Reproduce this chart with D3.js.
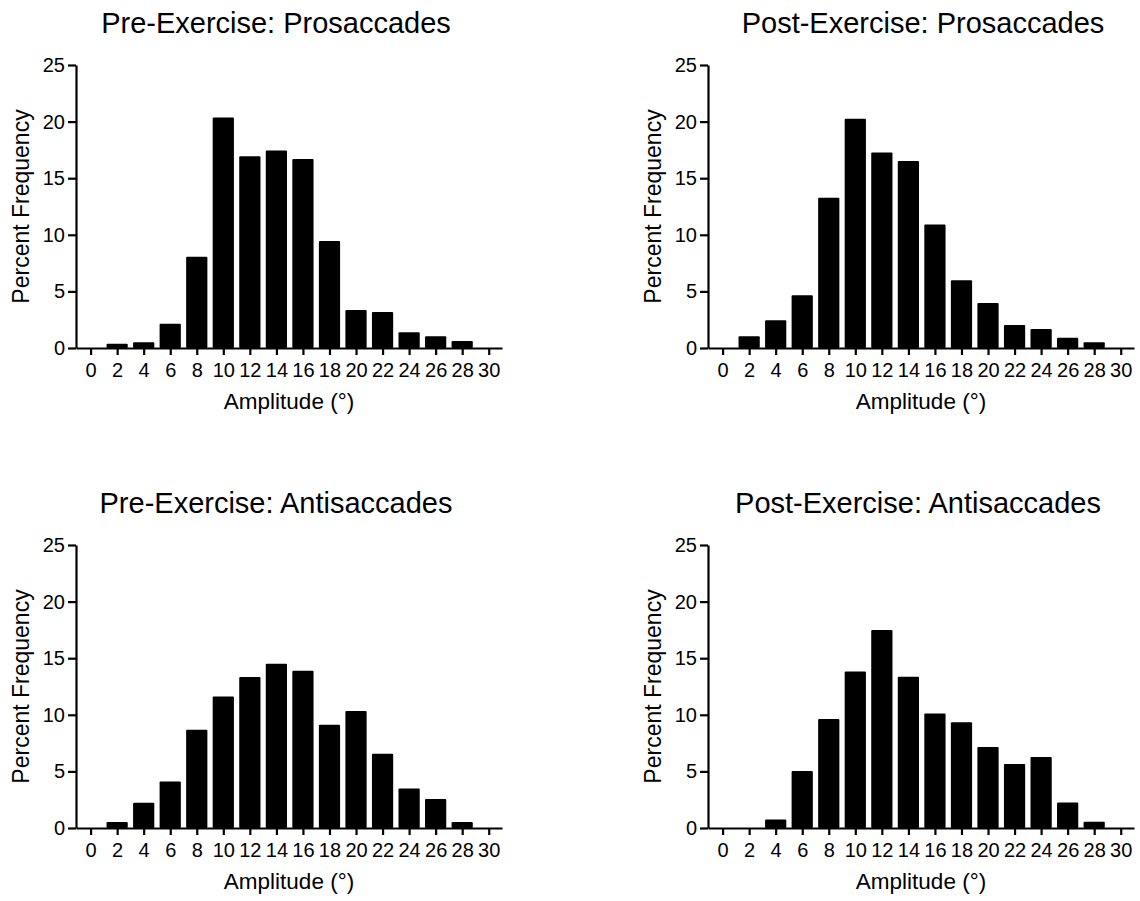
<!DOCTYPE html>
<html>
<head>
<meta charset="utf-8">
<script src="https://cdn.jsdelivr.net/npm/d3@7"></script>
<style>
  html, body { margin: 0; padding: 0; background: #fff; }
  svg { display: block; font-family: "Liberation Sans", Arial, sans-serif; }
</style>
</head>
<body>
<svg id="chart" width="1140" height="901"></svg>
<script>
// bins (amplitude, deg)
const bins = [0, 2, 4, 6, 8, 10, 12, 14, 16, 18, 20, 22, 24, 26, 28, 30];
const yTicks = [0, 5, 10, 15, 20, 25];

// percent frequency per bin
const preProsaccades   = [0, 0.38, 0.5, 2.15, 8.05, 20.37, 16.95, 17.45, 16.69, 9.46, 3.36, 3.18, 1.39, 1.03, 0.62, 0];
const postProsaccades  = [0, 1.03, 2.45, 4.66, 13.27, 20.25, 17.28, 16.51, 10.91, 5.98, 3.98, 2.03, 1.68, 0.91, 0.5, 0];
const preAntisaccades  = [0, 0.53, 2.22, 4.11, 8.69, 11.61, 13.33, 14.51, 13.89, 9.13, 10.34, 6.56, 3.49, 2.57, 0.53, 0];
const postAntisaccades = [0, 0, 0.74, 5.03, 9.62, 13.82, 17.49, 13.37, 10.12, 9.35, 7.16, 5.65, 6.27, 2.25, 0.56, 0];

const titles = [
  "Pre-Exercise: Prosaccades", "Post-Exercise: Prosaccades",
  "Pre-Exercise: Antisaccades", "Post-Exercise: Antisaccades"
];
const series = [preProsaccades, postProsaccades, preAntisaccades, postAntisaccades];

// layout
const plotW = 426, plotH = 283;
const origins = [[76, 65], [708, 65], [76, 545], [708, 545]];
const titleShift = [-13, 2, -13, -3];

const svg = d3.select("#chart");

series.forEach((vals, i) => {
  const [ox, oy] = origins[i];
  const g = svg.append("g").attr("transform", `translate(${ox},${oy})`);

  const x = d3.scaleLinear().domain([-1.1, 31]).range([0, plotW]);
  const y = d3.scaleLinear().domain([0, 25]).range([plotH, 0]);
  const barW = (x(2) - x(0)) * 0.8;

  // bars
  g.selectAll("rect.bar")
    .data(bins.map((b, k) => ({ b, v: vals[k] })).filter(d => d.v > 0))
    .join("rect")
    .attr("class", "bar")
    .attr("x", d => x(d.b) - barW / 2)
    .attr("y", d => y(d.v))
    .attr("width", barW)
    .attr("height", d => y(0) - y(d.v))
    .attr("rx", 1).attr("ry", 1)
    .attr("fill", "#000");

  // axes
  const xAxis = g.append("g").attr("transform", `translate(0,${plotH})`)
    .call(d3.axisBottom(x).tickValues(bins).tickFormat(d3.format("d"))
      .tickSize(7).tickSizeOuter(0).tickPadding(8));
  const yAxis = g.append("g")
    .call(d3.axisLeft(y).tickValues(yTicks).tickSize(8).tickSizeOuter(0).tickPadding(3));

  [xAxis, yAxis].forEach(a => {
    a.selectAll("path, line").attr("stroke", "#000").attr("stroke-width", 2.2);
    a.selectAll("text").attr("fill", "#000").attr("font-size", 20)
      .attr("font-family", "Liberation Sans, Arial, sans-serif");
  });

  // axis labels
  g.append("text")
    .attr("x", plotW / 2).attr("y", plotH + 61)
    .attr("text-anchor", "middle").attr("font-size", 22.5).attr("fill", "#000")
    .text("Amplitude (\u00B0)");

  g.append("text")
    .attr("transform", `translate(${-47},${plotH / 2}) rotate(-90)`)
    .attr("text-anchor", "middle").attr("font-size", 23).attr("fill", "#000")
    .text("Percent Frequency");

  // title
  g.append("text")
    .attr("x", plotW / 2 + titleShift[i]).attr("y", -32)
    .attr("text-anchor", "middle").attr("font-size", 29).attr("fill", "#000")
    .text(titles[i]);
});
</script>
</body>
</html>
